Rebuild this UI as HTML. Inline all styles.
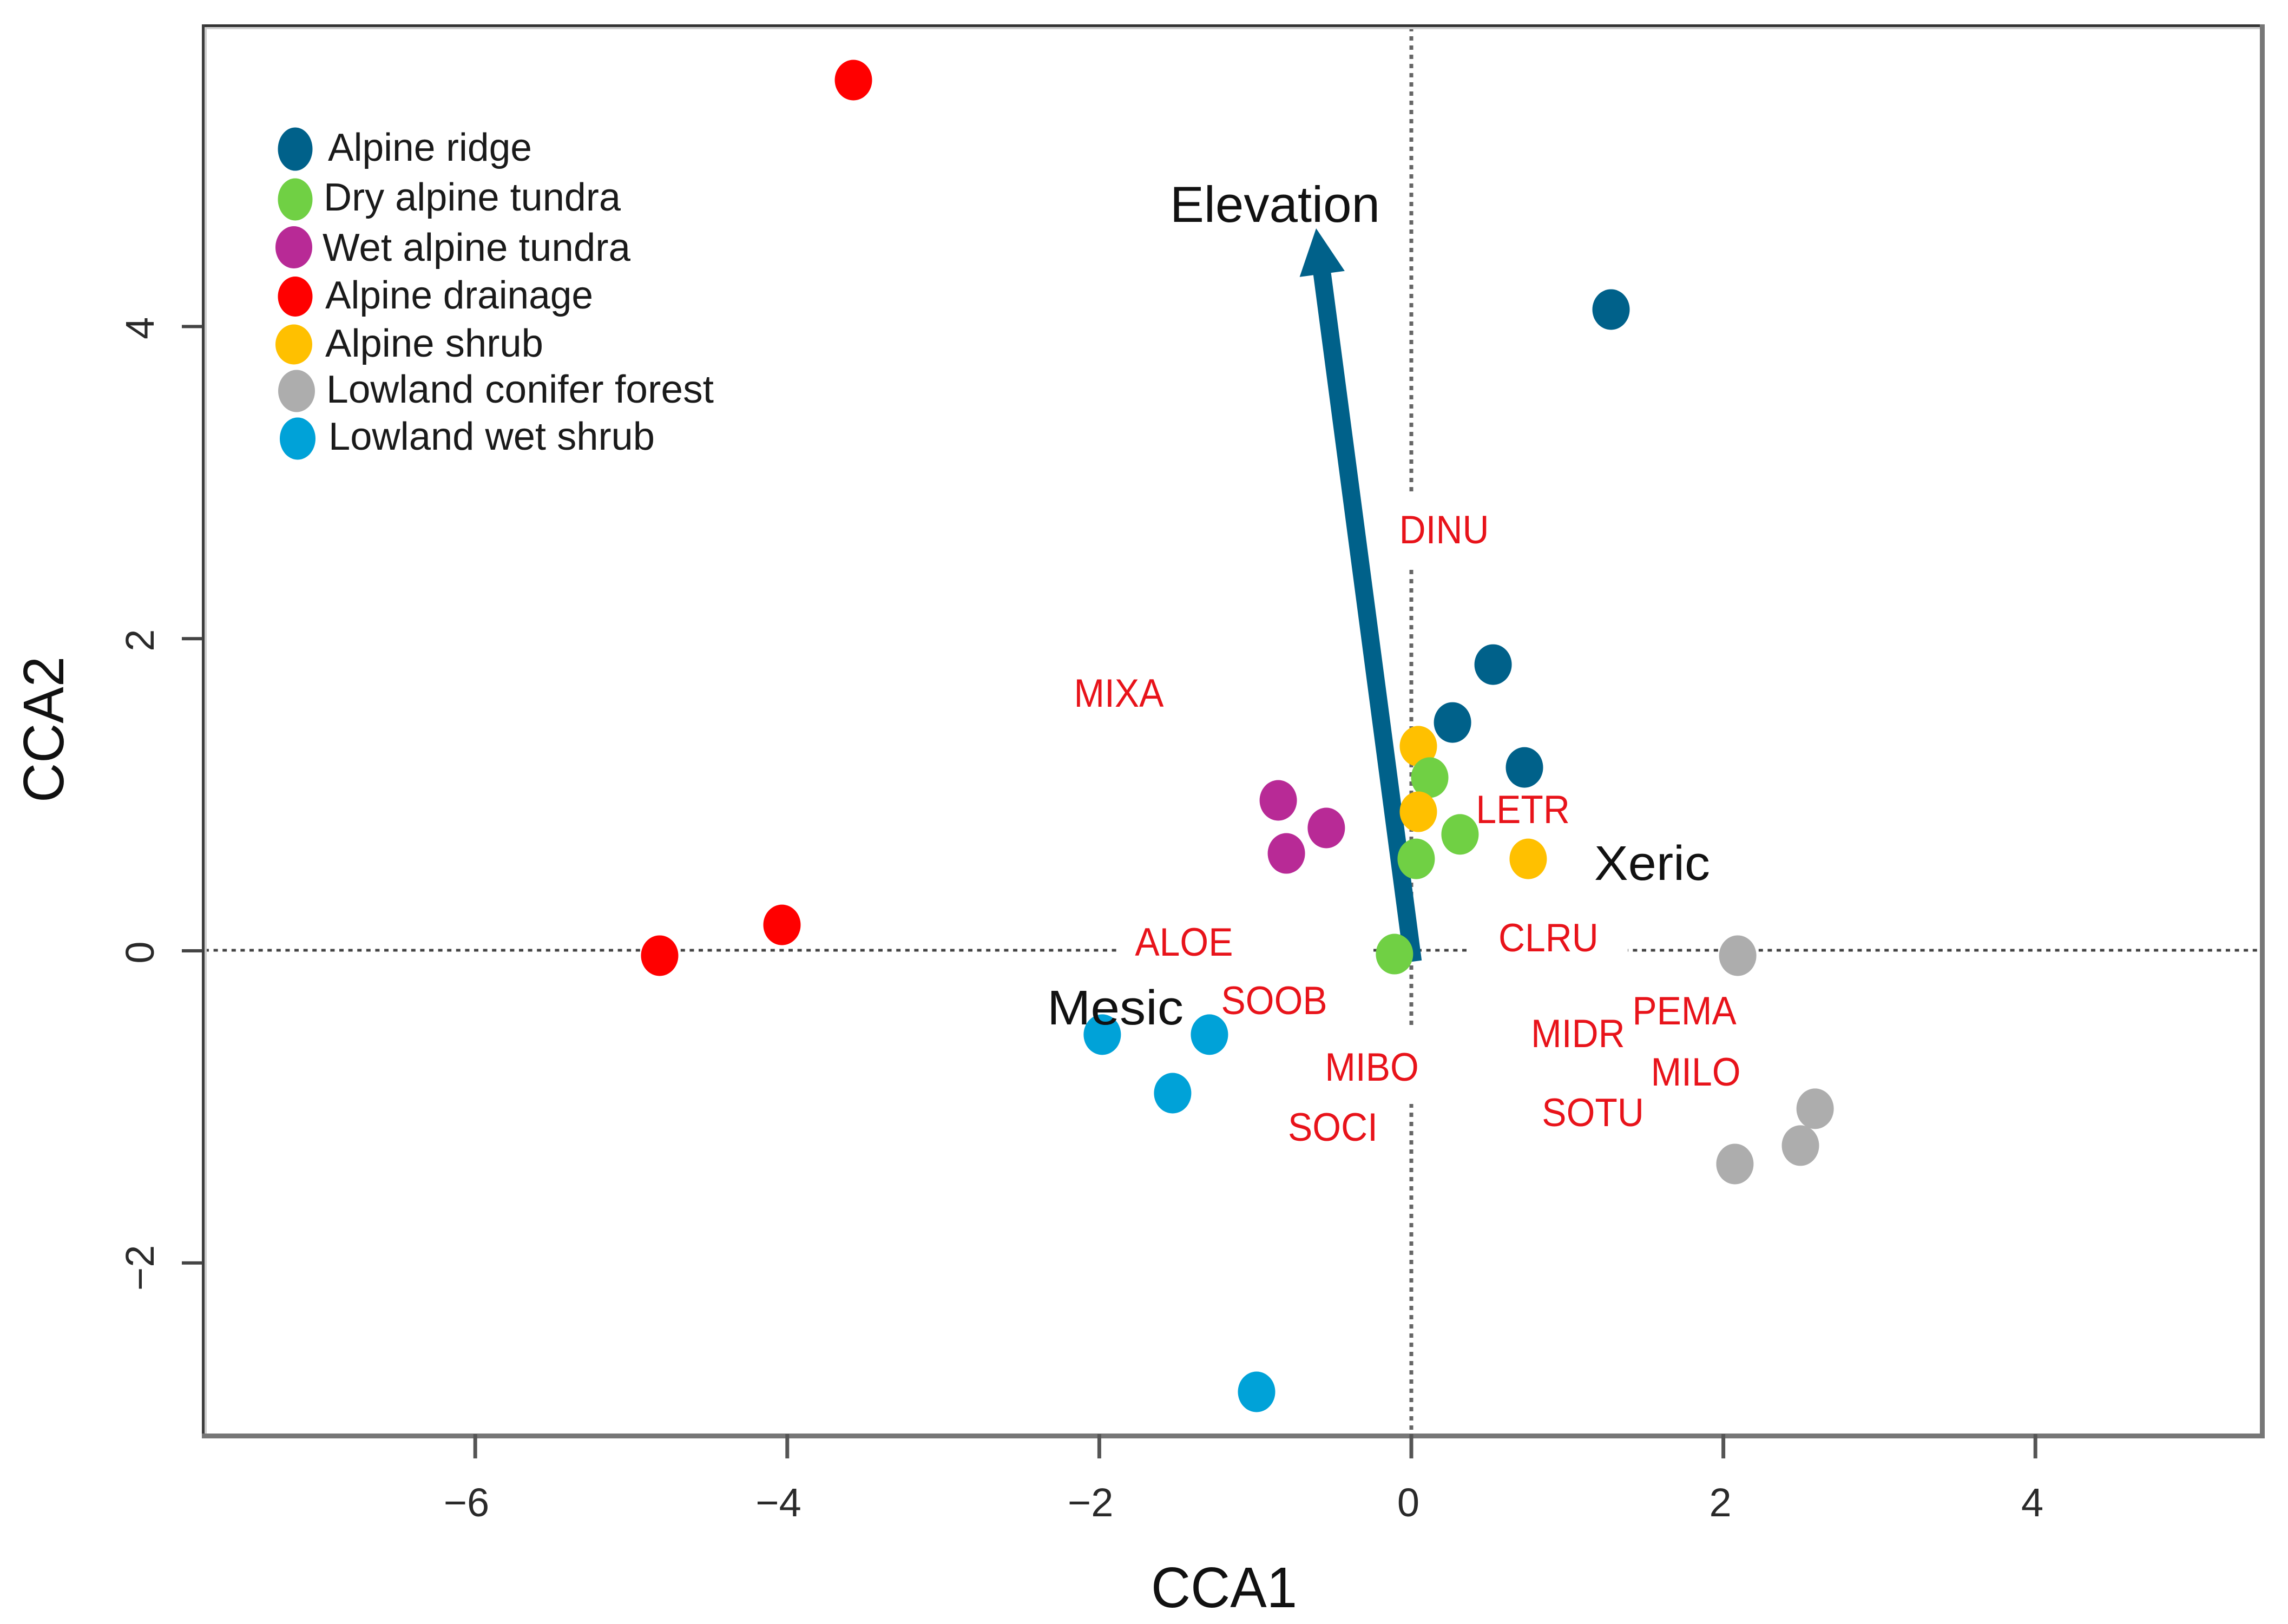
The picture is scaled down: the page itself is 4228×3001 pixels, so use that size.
<!DOCTYPE html>
<html lang="en">
<head>
<meta charset="utf-8">
<title>CCA ordination biplot</title>
<style>
html,body{margin:0;padding:0;background:#fff}
svg{display:block}
text{font-family:"Liberation Sans",Arial,sans-serif}
</style>
</head>
<body>
<svg id="chart" xmlns="http://www.w3.org/2000/svg" width="4228" height="3001" viewBox="0 0 4228 3001">
  <rect x="0" y="0" width="4228" height="3001" fill="#fff"/>
  <g id="lines"></g>
  <g fill="#fff">
    <rect x="2067" y="1745" width="471" height="22"/>
    <rect x="2714" y="1745" width="294" height="22"/>
    <rect x="2598" y="915" width="20" height="137"/>
    <rect x="2598" y="1900" width="20" height="140"/>
  </g>
  <g id="frame">
    <rect x="378" y="50" width="3800" height="4" fill="#d2d2d2"/>
    <rect x="378" y="50" width="4" height="2604" fill="#cccccc"/>
    <rect x="373" y="45" width="3806" height="5" fill="#333333"/>
    <rect x="373" y="45" width="5" height="2608" fill="#3c3c3c"/>
    <rect x="373" y="2649" width="3812" height="9" fill="#777777"/>
    <rect x="4176" y="45" width="9" height="2613" fill="#777777"/>
  </g>
  <g id="ticks"></g>
  <g id="arrow"></g>
  <g id="points"></g>
  <g id="species"></g>

  <text x="2162" y="410" font-size="94" textLength="388" lengthAdjust="spacingAndGlyphs" fill="#111">Elevation</text>
  <text x="2946" y="1626" font-size="90" textLength="214" lengthAdjust="spacingAndGlyphs" fill="#111">Xeric</text>
  <text x="1935" y="1893" font-size="90" textLength="252" lengthAdjust="spacingAndGlyphs" fill="#111">Mesic</text>

  <text x="2127" y="2970" font-size="106" textLength="270" lengthAdjust="spacingAndGlyphs" fill="#111">CCA1</text>
  <text transform="translate(117,1483) rotate(-90)" font-size="106" textLength="270" lengthAdjust="spacingAndGlyphs" fill="#111">CCA2</text>

  <g font-size="72" fill="#1a1a1a">
    <g>
      <ellipse cx="545.5" cy="275.5" rx="32" ry="40" fill="#00618a"/>
      <text x="606" y="297" textLength="377" lengthAdjust="spacingAndGlyphs">Alpine ridge</text>
    </g>
    <g>
      <ellipse cx="545.5" cy="368.5" rx="32" ry="39" fill="#70d044"/>
      <text x="598" y="389" textLength="549" lengthAdjust="spacingAndGlyphs">Dry alpine tundra</text>
    </g>
    <g>
      <ellipse cx="543" cy="457" rx="34" ry="39" fill="#b82a96"/>
      <text x="596" y="482" textLength="569" lengthAdjust="spacingAndGlyphs">Wet alpine tundra</text>
    </g>
    <g>
      <ellipse cx="545.5" cy="548" rx="32" ry="37" fill="#ff0000"/>
      <text x="601" y="570" textLength="495" lengthAdjust="spacingAndGlyphs">Alpine drainage</text>
    </g>
    <g>
      <ellipse cx="543" cy="636.5" rx="34" ry="37" fill="#ffc000"/>
      <text x="601" y="659" textLength="403" lengthAdjust="spacingAndGlyphs">Alpine shrub</text>
    </g>
    <g>
      <ellipse cx="548" cy="722.5" rx="34" ry="39" fill="#adadad"/>
      <text x="603" y="744" textLength="716" lengthAdjust="spacingAndGlyphs">Lowland conifer forest</text>
    </g>
    <g>
      <ellipse cx="550" cy="810.5" rx="33" ry="39" fill="#00a2d8"/>
      <text x="607" y="831" textLength="603" lengthAdjust="spacingAndGlyphs">Lowland wet shrub</text>
    </g>
  </g>
</svg>

<script>
// Axis ticks
const xTickValues = [-6, -4, -2, 0, 2, 4];
const yTickValues = [-2, 0, 2, 4];

// Site scores (CCA1, CCA2) per community
const alpineRidgeX = [0.524, 0.264, 0.725, 1.280];
const alpineRidgeY = [1.834, 1.463, 1.175, 4.109];
const dryTundraX = [0.118, 0.312, 0.031, -0.108];
const dryTundraY = [1.110, 0.746, 0.589, -0.021];
const wetTundraX = [-0.853, -0.545, -0.801];
const wetTundraY = [0.964, 0.787, 0.624];
const drainageX = [-3.576, -4.034, -4.818];
const drainageY = [5.579, 0.166, -0.031];
const shrubX = [0.045, 0.045, 0.749];
const shrubY = [1.311, 0.891, 0.589];
const coniferX = [2.092, 2.074, 2.588, 2.494];
const coniferY = [-0.031, -1.366, -1.012, -1.248];
const wetShrubX = [-1.981, -1.294, -1.530, -0.992];
const wetShrubY = [-0.537, -0.537, -0.912, -2.826];

// Species scores
const speciesNames = ['DINU', 'MIXA', 'LETR', 'ALOE', 'CLRU', 'SOOB', 'PEMA', 'MIDR', 'MIBO', 'MILO', 'SOTU', 'SOCI'];
const speciesX = [0.210, -1.875, 0.715, -1.457, 0.879, -0.879, 1.750, 1.068, -0.253, 1.823, 1.164, -0.503];
const speciesY = [2.611, 1.564, 0.818, -0.031, -0.003, -0.406, -0.472, -0.617, -0.832, -0.863, -1.123, -1.217];

// Environmental vector (elevation), from near origin to tip
const vectorX = [0.010, -0.610];
const vectorY = [-0.069, 4.629];

const NS = 'http://www.w3.org/2000/svg';
function sx(v) { return 2608 + 288.3 * v; }
function sy(v) { return 1757 - 288.4 * v; }
function make(tag, parentId) {
  const el = document.createElementNS(NS, tag);
  document.getElementById(parentId).appendChild(el);
  return el;
}

// Zero reference lines
const hLine = make('line', 'lines');


hLine.setAttribute('x1', 378);
hLine.setAttribute('x2', 4176);
hLine.setAttribute('y1', sy(0) - 1);
hLine.setAttribute('y2', sy(0) - 1);
hLine.setAttribute('stroke', '#444');
hLine.setAttribute('stroke-width', 5);
hLine.setAttribute('stroke-dasharray', '8 8.6');

const vLine = make('line', 'lines');


vLine.setAttribute('x1', sx(0));
vLine.setAttribute('x2', sx(0));
vLine.setAttribute('y1', 50);
vLine.setAttribute('y2', 2649);
vLine.setAttribute('stroke', '#666');
vLine.setAttribute('stroke-width', 7);
vLine.setAttribute('stroke-dasharray', '8 9');

// Ticks and tick labels
xTickValues.forEach(function (v) {
  const t = make('rect', 'ticks');
  
  
  t.setAttribute('x', sx(v) - 3.5);
  t.setAttribute('y', 2650);
  t.setAttribute('width', 7);
  t.setAttribute('height', 45);
  t.setAttribute('fill', '#555');

  const l = make('text', 'ticks');
  
  
  l.setAttribute('x', sx(v) + (v < 0 ? 26 : 15));
  l.setAttribute('y', 2802);
  l.setAttribute('text-anchor', 'end');
  l.setAttribute('font-size', 74);
  l.setAttribute('fill', '#2a2a2a');
  l.textContent = (v < 0 ? '\u2212' : '') + Math.abs(v);
});

yTickValues.forEach(function (v) {
  const t = make('rect', 'ticks');
  
  
  t.setAttribute('x', 336);
  t.setAttribute('y', sy(v) - 3);
  t.setAttribute('width', 38);
  t.setAttribute('height', 6);
  t.setAttribute('fill', '#444');

  const l = make('text', 'ticks');
  
  
  l.setAttribute('transform', 'translate(284,' + (sy(v) + (v < 0 ? 9 : 3)) + ') rotate(-90)');
  l.setAttribute('text-anchor', 'middle');
  l.setAttribute('font-size', 74);
  l.setAttribute('fill', '#2a2a2a');
  l.textContent = (v < 0 ? '\u2212' : '') + Math.abs(v);
});

// Elevation vector drawn from its data endpoints
(function () {
  const x0 = sx(vectorX[0]), y0 = sy(vectorY[0]);
  const x1 = sx(vectorX[1]), y1 = sy(vectorY[1]);
  const dx = x1 - x0, dy = y1 - y0;
  const len = Math.sqrt(dx * dx + dy * dy);
  const ux = dx / len, uy = dy / len;
  const nx = -uy, ny = ux;
  const shaftHalf = 16.5, headHalf = 42, headLen = 85;
  const bx = x1 - ux * headLen, by = y1 - uy * headLen;
  const pts = [
    [x0 + nx * shaftHalf, y0 + ny * shaftHalf],
    [bx + nx * shaftHalf, by + ny * shaftHalf],
    [bx + nx * headHalf, by + ny * headHalf],
    [x1, y1],
    [bx - nx * headHalf, by - ny * headHalf],
    [bx - nx * shaftHalf, by - ny * shaftHalf],
    [x0 - nx * shaftHalf, y0 - ny * shaftHalf]
  ];
  const a = make('polygon', 'arrow');
  
  
  a.setAttribute('points', pts.map(function (p) { return p[0].toFixed(1) + ',' + p[1].toFixed(1); }).join(' '));
  a.setAttribute('fill', '#00618a');
})();

// Site points
function drawPoints(label, color, xs, ys, indices) {
  indices.forEach(function (i) {
    const e = make('ellipse', 'points');
    
    
    e.setAttribute('cx', sx(xs[i]));
    e.setAttribute('cy', sy(ys[i]));
    e.setAttribute('rx', 34.5);
    e.setAttribute('ry', 37.5);
    e.setAttribute('fill', color);
  });
}
function allIndices(arr) { return arr.map(function (_, i) { return i; }); }

drawPoints('alpine-ridge', '#00618a', alpineRidgeX, alpineRidgeY, allIndices(alpineRidgeX));
drawPoints('alpine-shrub', '#ffc000', shrubX, shrubY, [0]);
drawPoints('dry-alpine-tundra', '#70d044', dryTundraX, dryTundraY, allIndices(dryTundraX));
drawPoints('alpine-shrub', '#ffc000', shrubX, shrubY, [1, 2]);
drawPoints('wet-alpine-tundra', '#b82a96', wetTundraX, wetTundraY, allIndices(wetTundraX));
drawPoints('alpine-drainage', '#ff0000', drainageX, drainageY, allIndices(drainageX));
drawPoints('lowland-conifer-forest', '#adadad', coniferX, coniferY, allIndices(coniferX));
drawPoints('lowland-wet-shrub', '#00a2d8', wetShrubX, wetShrubY, allIndices(wetShrubX));

// Species labels
speciesNames.forEach(function (name, i) {
  const t = make('text', 'species');
  
  
  t.setAttribute('transform', 'translate(' + sx(speciesX[i]) + ',' + sy(speciesY[i]) + ') scale(0.93,1)');
  t.setAttribute('text-anchor', 'middle');
  t.setAttribute('font-size', 73);
  t.setAttribute('fill', '#e8131a');
  t.textContent = name;
});
</script>
</body>
</html>
